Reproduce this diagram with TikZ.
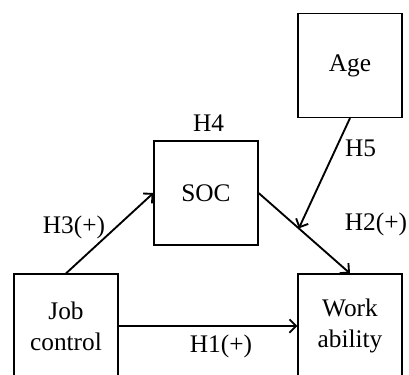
\documentclass[tikz,border=0pt]{standalone}
\usepackage{fontspec}
\setmainfont{Liberation Serif}
\usetikzlibrary{arrows.meta}

\tikzset{
  var/.style={draw, line width=0.9, minimum width=78pt, minimum height=78pt,
              inner sep=0pt, align=center, font=\fontsize{19}{23}\selectfont},
  hyp/.style={anchor=base, inner sep=0pt, font=\fontsize{19}{23}\selectfont},
  link/.style={-{Straight Barb[length=5pt, width=10pt]}, line width=1.4}
}

\begin{document}
\begin{tikzpicture}[x=0.75pt, y=-0.75pt]

  \fill[white] (0, 0) rectangle (409, 374);
  \clip (0, 0) rectangle (409, 374);

  \node[var] (age)  at (350, 65.5) {Age};
  \node[var] (soc)  at (206, 193)  {SOC};
  \node[var] (job)  at (66, 326)   {Job\\control};
  \node[var] (work) at (350, 326)  {Work\\ability};

  \draw[link] (job.north) -- (soc.west);
  \draw[link] (soc.east) -- (work.north) coordinate[pos=0.44] (mod);
  \draw[link] (age.south) -- (mod);
  \draw[link] (job.east) -- (work.west);

  \node[hyp] (h4) at (208.5, 131.7) {H4};
  \node[hyp] (h3) at (74, 233.3)    {H3(+)};
  \node[hyp] (h5) at (360.5, 156.7) {H5};
  \node[hyp] (h2) at (376, 230)     {H2(+)};
  \node[hyp] (h1) at (221, 352.7)   {H1(+)};

\end{tikzpicture}
\end{document}
